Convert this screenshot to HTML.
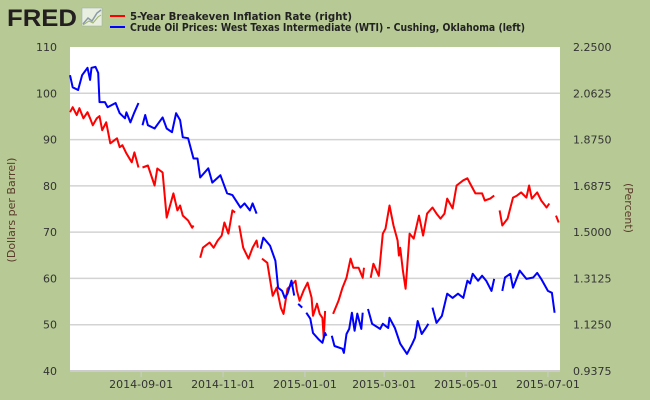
<!DOCTYPE html>
<html><head><meta charset="utf-8"><style>
html,body{margin:0;padding:0;background:#b7ca95;}
svg{display:block;font-family:"DejaVu Sans","Liberation Sans",sans-serif;}
</style></head><body>
<svg id="chart" width="650" height="400" viewBox="0 0 650 400" xmlns="http://www.w3.org/2000/svg">
<rect x="0" y="0" width="650" height="400" fill="#b7ca95"/>
<g>
<text x="7" y="26" font-family="Liberation Sans, sans-serif" font-weight="bold" font-size="24" fill="#231f20" textLength="70" lengthAdjust="spacingAndGlyphs">FRED</text>
<rect x="82" y="8" width="20" height="18" fill="#e8eee0" stroke="#9aa" stroke-width="0.5"/>
<polyline points="83,24 88,18 92,21 97,13 101,10" fill="none" stroke="#8a9aa8" stroke-width="1.5"/>
<polyline points="83,25 89,21 93,23 98,17 101,15" fill="none" stroke="#9cb36a" stroke-width="1"/>
</g>
<g>
<g>
<line x1="110" y1="16" x2="125" y2="16" stroke="#ff0000" stroke-width="2"/>
<text x="130" y="20" font-size="11" font-weight="bold" fill="#222" textLength="222" lengthAdjust="spacingAndGlyphs">5-Year Breakeven Inflation Rate (right)</text>
</g>
<g>
<line x1="110" y1="27" x2="125" y2="27" stroke="#0000ff" stroke-width="2"/>
<text x="130" y="31" font-size="11" font-weight="bold" fill="#222" textLength="395" lengthAdjust="spacingAndGlyphs">Crude Oil Prices: West Texas Intermediate (WTI) - Cushing, Oklahoma (left)</text>
</g>
</g>
<rect x="70" y="47" width="490" height="324" fill="#ffffff"/>
<g id="grid"></g>
<g id="series"></g>
<g id="axes"></g>
<text x="15" y="210" font-size="11" fill="#5a3a2a" text-anchor="middle" transform="rotate(-90 15 210)">(Dollars per Barrel)</text>
<text x="625" y="208" font-size="11" fill="#5a3a2a" text-anchor="middle" transform="rotate(90 625 208)">(Percent)</text>
</svg>
<script>
const leftTicks = [40,50,60,70,80,90,100,110];
const rightTickLabels = ["0.9375","1.1250","1.3125","1.5000","1.6875","1.8750","2.0625","2.2500"];
const xTickDays = [53,114,175,234,295,356];
const xTickLabels = ["2014-09-01","2014-11-01","2015-01-01","2015-03-01","2015-05-01","2015-07-01"];

const oilDays = [0,2,6,9,13,15,16,19,21,22,26,28,34,37,41,42,45,48,51,53,54,56,58,63,69,72,76,79,82,84,88,92,95,97,103,106,112,117,121,127,130,134,136,139,140,142,144,149,153,155,158,160,162,165,167,168,170,173,175,176,179,181,185,188,190,191,193,195,197,203,204,206,208,210,212,214,217,218,220,222,225,231,233,237,238,242,246,251,255,257,259,262,265,267,269,270,273,277,281,285,289,293,296,298,300,304,307,310,314,316,318,322,324,328,330,335,340,345,348,351,356,359,361];
const oilVals = [103.9,101.3,100.7,103.9,105.5,102.9,105.5,105.7,104.4,98.1,98.1,97.0,97.9,95.7,94.6,95.9,93.7,95.9,97.9,null,93.1,95.3,93.1,92.4,94.8,92.4,91.6,95.7,94.2,90.5,90.3,85.9,85.9,81.8,83.8,80.7,82.3,78.4,78.0,75.3,76.2,74.7,76.2,74.0,null,66.4,68.8,67.1,63.8,58.0,57.3,55.8,56.7,59.5,56.3,null,54.5,53.7,null,52.6,51.3,48.2,46.9,46.1,48.2,47.6,null,47.6,45.4,44.8,43.9,48.0,49.1,52.6,48.7,52.4,49.1,52.6,null,53.4,50.2,49.1,50.2,49.3,51.5,49.3,45.9,43.7,45.9,47.2,50.8,48.0,49.3,50.2,null,53.7,50.4,51.9,56.7,55.8,56.7,55.8,59.5,58.9,61.0,59.5,60.6,59.5,57.3,59.9,null,57.3,60.2,61.0,58.0,61.7,59.9,60.2,61.2,59.9,57.3,56.9,52.6];

const infDays = [0,2,5,7,10,13,15,17,20,22,24,27,30,35,37,39,42,46,48,51,52,54,58,63,65,69,72,77,80,82,84,88,91,92,94,97,99,104,107,110,113,115,118,121,123,125,126,129,133,136,139,140,141,143,147,151,154,157,159,162,166,168,169,171,174,177,180,181,184,186,188,189,190,192,196,200,203,206,209,211,215,218,219,221,224,226,230,233,235,238,241,244,245,246,248,250,253,256,260,263,266,270,273,276,279,281,285,288,293,296,298,302,307,309,313,316,318,320,322,326,330,333,336,340,342,344,348,351,355,357,359,362,364];
const infVals = [1.986,2.006,1.974,2.002,1.961,1.986,1.961,1.933,1.961,1.970,1.913,1.945,1.860,1.880,1.844,1.852,1.819,1.783,1.823,1.762,null,1.762,1.770,1.689,1.758,1.742,1.559,1.657,1.588,1.608,1.567,1.547,1.518,1.527,null,1.396,1.437,1.458,1.437,1.466,1.486,1.539,1.494,1.588,1.580,null,1.527,1.437,1.393,1.437,1.466,1.437,null,1.393,1.376,1.242,1.275,1.194,1.169,1.271,1.291,1.303,1.263,1.222,1.263,1.295,1.234,1.161,1.210,1.169,1.153,1.072,1.181,null,1.169,1.222,1.275,1.315,1.393,1.356,1.356,1.315,1.356,null,1.315,1.372,1.323,1.494,1.514,1.608,1.527,1.466,1.405,1.437,1.344,1.271,1.494,1.474,1.567,1.486,1.575,1.600,1.575,1.555,1.575,1.636,1.596,1.689,1.710,1.718,1.697,1.657,1.657,1.628,1.636,1.648,null,1.588,1.527,1.555,1.640,1.648,1.661,1.640,1.689,1.636,1.661,1.628,1.600,1.616,null,1.567,1.539];

const NS = "http://www.w3.org/2000/svg";
const X0 = 70, X1 = 560, Y0 = 371, Y1 = 47;
function xScale(d){ return X0 + d * (X1 - X0) / 365; }
function yLeft(v){ return Y0 - (v - 40) * (Y0 - Y1) / 70; }
function yRight(p){ return Y0 - (p - 0.9375) * (Y0 - Y1) / 1.3125; }
function mk(tag, attrs){ const e = document.createElementNS(NS, tag); for (const k in attrs) e.setAttribute(k, attrs[k]); return e; }

const grid = document.getElementById('grid');
const axes = document.getElementById('axes');
leftTicks.forEach((t, i) => {
  const y = yLeft(t);
  if (i > 0 && i < leftTicks.length - 1) {
    const gl = mk('line', {x1: X0, x2: X1, y1: y, y2: y, stroke: '#d3d3d3', 'stroke-width': 1.5});
    
    
    grid.appendChild(gl);
  }
  const lt = mk('text', {x: 57, y: y + 4, 'font-size': 11, fill: '#333', 'text-anchor': 'end'});
  lt.textContent = t;
  
  
  axes.appendChild(lt);
  const rt = mk('text', {x: 573, y: y + 4, 'font-size': 11, fill: '#333'});
  rt.textContent = rightTickLabels[i];
  
  
  axes.appendChild(rt);
});
const base = mk('line', {x1: X0, x2: X1, y1: Y0, y2: Y0, stroke: '#cccccc', 'stroke-width': 2});


axes.appendChild(base);
xTickDays.forEach((d, i) => {
  const x = xScale(d);
  const tk = mk('line', {x1: x, x2: x, y1: Y0, y2: Y0 + 6, stroke: '#cccccc', 'stroke-width': 1});
  
  
  axes.appendChild(tk);
  const tl = mk('text', {x: x, y: 388, 'font-size': 11, fill: '#333', 'text-anchor': 'middle'});
  tl.textContent = xTickLabels[i];
  
  
  axes.appendChild(tl);
});

function pathFor(days, vals, ys){
  let d = '', pen = false;
  for (let i = 0; i < days.length; i++) {
    if (vals[i] === null) { pen = false; continue; }
    d += (pen ? 'L' : 'M') + xScale(days[i]).toFixed(1) + ',' + ys(vals[i]).toFixed(1);
    pen = true;
  }
  return d;
}
const series = document.getElementById('series');
const inf = mk('path', {d: pathFor(infDays, infVals, yRight), fill: 'none', stroke: '#ff0000', 'stroke-width': 2, 'stroke-linejoin': 'round'});


series.appendChild(inf);
const oil = mk('path', {d: pathFor(oilDays, oilVals, yLeft), fill: 'none', stroke: '#0000ff', 'stroke-width': 2, 'stroke-linejoin': 'round'});


series.appendChild(oil);
</script>
</body></html>
